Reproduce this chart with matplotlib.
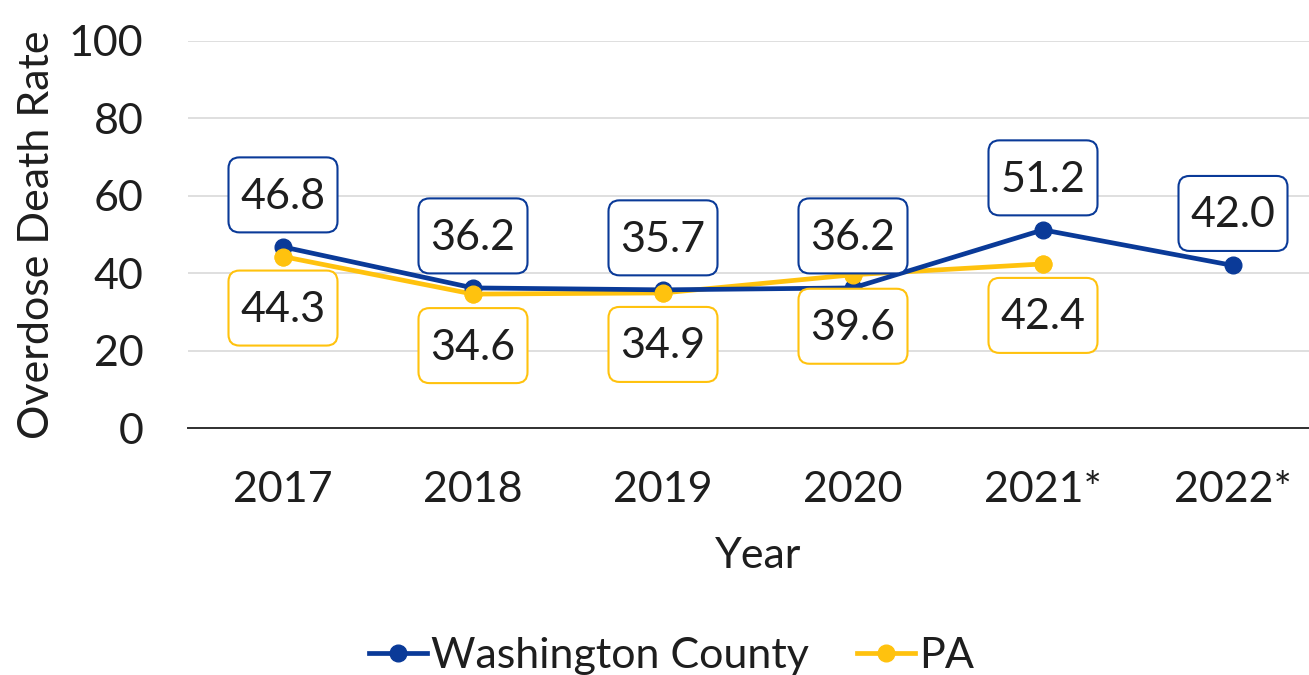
import matplotlib
matplotlib.use("Agg")
import matplotlib.pyplot as plt
from matplotlib.patches import FancyBboxPatch
from matplotlib.transforms import ScaledTranslation

years = ["2017", "2018", "2019", "2020", "2021*", "2022*"]
washington = [46.8, 36.2, 35.7, 36.2, 51.2, 42.0]
pa = [44.3, 34.6, 34.9, 39.6, 42.4]

BLUE = "#0A3A98"
GOLD = "#FFC20E"
TXT = "#1E1E1E"

plt.rcParams['font.family'] = ['Lato', 'DejaVu Sans']

fig = plt.figure(figsize=(13.09, 6.75), dpi=100)
ax = fig.add_axes([188/1309, 1 - 428/675, 1140/1309, 387/675])
ax.set_xlim(-0.5, 5.5)
ax.set_ylim(0, 100)

x_w = list(range(len(washington)))
x_p = list(range(len(pa)))

ax.plot(x_p, pa, color=GOLD, lw=3.4, marker='o', ms=12, zorder=3, label="PA")
ax.plot(x_w, washington, color=BLUE, lw=3.4, marker='o', ms=12, zorder=4, label="Washington County")
ax.plot(x_p, pa, color=GOLD, lw=0, marker='o', ms=12, zorder=5)

BW, BH = 109, 75


def label(xi, v, dy, ec):
    tr = ScaledTranslation(xi, v, ax.transData)
    box = FancyBboxPatch((-BW / 2, dy - BH / 2), BW, BH,
                         boxstyle='round,pad=0,rounding_size=11',
                         fc='white', ec=ec, lw=1.5, transform=tr, zorder=6,
                         clip_on=False)
    ax.add_patch(box)
    ax.annotate(f"{v:.1f}", (xi, v), xytext=(0, dy - 2), textcoords='offset pixels',
                ha='center', va='center', fontsize=31, color=TXT, zorder=7)


for xi, v in zip(x_w, washington):
    label(xi, v, 52, BLUE)
for xi, v in zip(x_p, pa):
    label(xi, v, -51.5, GOLD)

ax.set_xticks(range(len(years)))
ax.set_xticklabels(years)
ax.set_yticks(range(0, 101, 20))
ax.tick_params(axis='both', length=0, labelsize=31, colors=TXT)
ax.tick_params(axis='x', pad=31)
ax.tick_params(axis='y', pad=32)
ax.yaxis.grid(True, color='#D9D9D9', lw=1.2)
ax.set_axisbelow(True)
for s in ['top', 'right', 'left']:
    ax.spines[s].set_visible(False)
ax.spines['bottom'].set_color('#303030')
ax.spines['bottom'].set_linewidth(1.4)

ax.set_xlabel("Year", fontsize=31, color=TXT, labelpad=20)
ax.set_ylabel("Overdose Death Rate", fontsize=31, color=TXT, labelpad=9)

h, l = ax.get_legend_handles_labels()
order = [1, 0]
fig.legend([h[i] for i in order], [l[i] for i in order], loc='center',
           bbox_to_anchor=(0.513, 0.028), ncol=2, frameon=False, fontsize=31,
           handlelength=1.35, handletextpad=0.1, columnspacing=1.1, labelcolor=TXT)

fig.savefig("out.png", dpi=100)
